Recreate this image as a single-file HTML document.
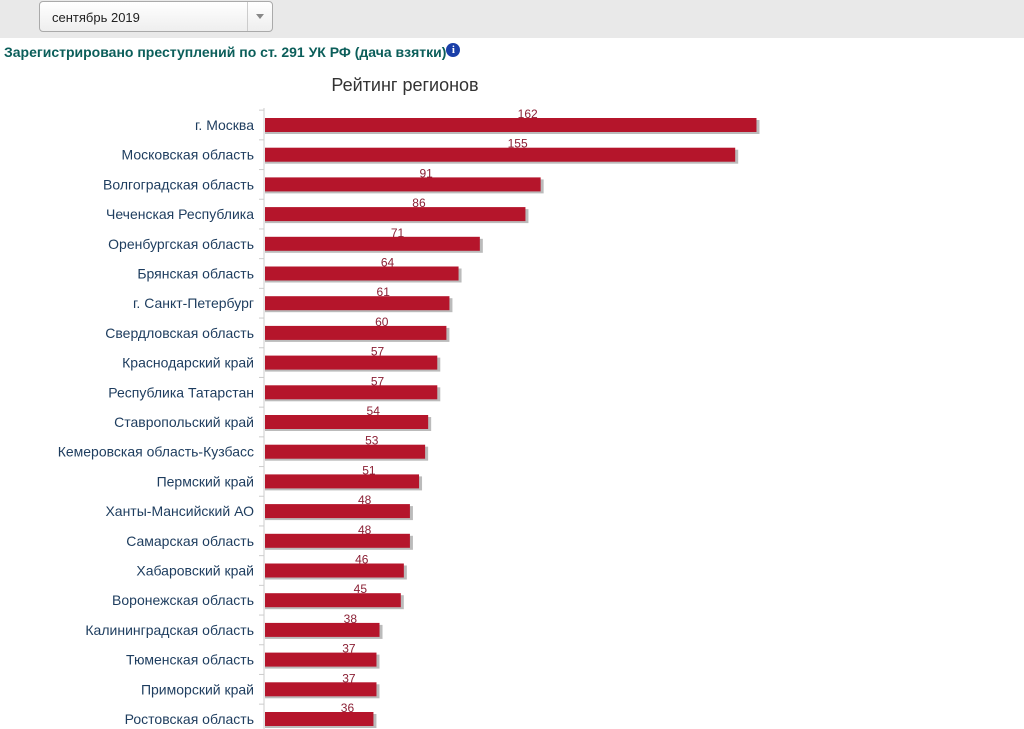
<!DOCTYPE html>
<html><head><meta charset="utf-8"><style>
body{margin:0;width:1024px;height:729px;overflow:hidden;background:#fff;font-family:"Liberation Sans","DejaVu Sans",sans-serif;}
#top{position:absolute;left:0;top:0;width:1024px;height:38px;background:#e9e9e9;}
#dd{position:absolute;left:39px;top:1px;width:234px;height:31px;border:1px solid #aaa;border-radius:4px;background:linear-gradient(#fff,#eee);box-sizing:border-box;}
#dd span{position:absolute;left:12px;top:8px;font-size:13px;color:#222;}
#dd i{position:absolute;right:0;top:0;width:24px;height:29px;border-left:1px solid #ccc;}
#dd i:after{content:"";position:absolute;left:8px;top:12px;border:4px solid transparent;border-top:5px solid #888;}
#title{position:absolute;left:4px;top:43px;font-size:14px;font-weight:bold;color:#0b5e5a;}
#info{display:inline-block;width:14px;height:14px;border-radius:50%;background:#1a3fa8;color:#fff;font-size:11px;text-align:center;line-height:14px;vertical-align:4px;font-family:"Liberation Serif",serif;}
svg{position:absolute;left:0;top:0;}
</style></head><body>
<div id="top">
<div id="dd"><span>сентябрь 2019</span><i></i></div></div>
<div id="title">Зарегистрировано преступлений по ст. 291 УК РФ (дача взятки)<span id="info">i</span></div>
<svg id="chart" width="1024" height="729">
<text x="405" y="91" font-size="18" fill="#333" text-anchor="middle">Рейтинг регионов</text>
</svg>
<script>
const categories=["г. Москва","Московская область","Волгоградская область","Чеченская Республика","Оренбургская область","Брянская область","г. Санкт-Петербург","Свердловская область","Краснодарский край","Республика Татарстан","Ставропольский край","Кемеровская область-Кузбасс","Пермский край","Ханты-Мансийский АО","Самарская область","Хабаровский край","Воронежская область","Калининградская область","Тюменская область","Приморский край","Ростовская область"];
const values=[162,155,91,86,71,64,61,60,57,57,54,53,51,48,48,46,45,38,37,37,36];
const svg=document.getElementById('chart');
const NS='http://www.w3.org/2000/svg';
const x0=264, k=3.04, y0=125, step=29.7, bh=14;
const xs=v=>x0+v*k, ys=i=>y0+i*step;
function mk(t,a){const e=document.createElementNS(NS,t);for(const n in a)e.setAttribute(n,a[n]);svg.appendChild(e);return e;}
const ax=mk('line',{x1:x0,y1:108,x2:x0,y2:729,stroke:'#ccc'});


categories.forEach((c,i)=>{
 const y=ys(i);
 const tk=mk('line',{x1:x0-5,y1:y-step/2,x2:x0,y2:y-step/2,stroke:'#ccc'});
 
 
 const sh=mk('rect',{x:x0+1,y:y-bh/2+2,width:xs(values[i])-x0+2,height:bh,fill:'#bbb'});
 
 
 const b=mk('rect',{x:x0+1,y:y-bh/2,width:xs(values[i])-x0-1,height:bh,fill:'#b5152b'});
 
 
 const l=mk('text',{x:254,y:y+5,'font-size':14,fill:'#1d3c5e','text-anchor':'end'});
 l.textContent=c;
 
 
 const v=mk('text',{x:296+values[i]*1.43,y:y-7,'font-size':12,fill:'#8b2035','text-anchor':'middle'});
 v.textContent=values[i];
 
 
});
</script>
</body></html>
